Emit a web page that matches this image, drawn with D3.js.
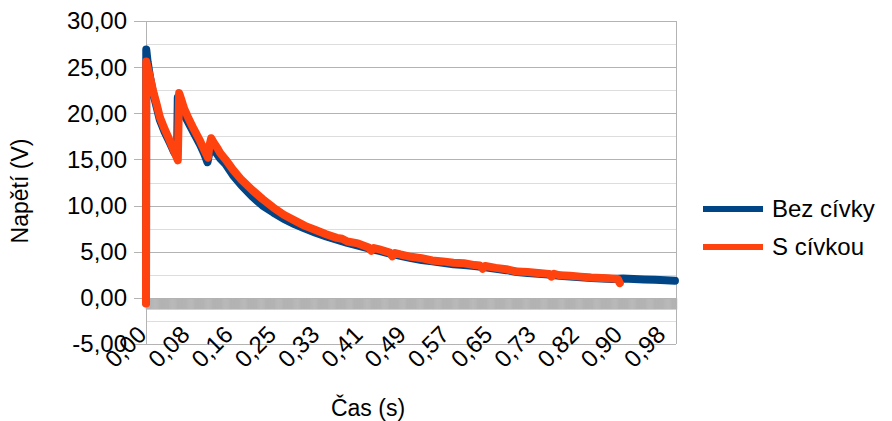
<!DOCTYPE html>
<html lang="cs">

<head>
    <meta charset="UTF-8">
    <title>Napětí</title>
    <style>
        body { margin: 0; background: #fff; }
        text { font-family: "Liberation Sans", Arial, sans-serif; fill: #000; }
    </style>
</head>

<body>
    <svg width="892" height="421" id="svg"></svg>
    <script src="https://d3js.org/d3.v7.min.js"></script>
    <script>
        // S cívkou (orange)
        const timeOrange = [0, 0.0005, 0.003, 0.008, 0.013, 0.02, 0.026, 0.035, 0.045, 0.053, 0.060, 0.0625, 0.066, 0.072, 0.079, 0.09, 0.102, 0.110, 0.117, 0.120, 0.123, 0.128, 0.134, 0.140, 0.150, 0.164, 0.18, 0.20, 0.22, 0.24, 0.26, 0.28, 0.30, 0.32, 0.34, 0.36, 0.37, 0.38, 0.40, 0.42, 0.425, 0.43, 0.44, 0.46, 0.465, 0.47, 0.48, 0.50, 0.52, 0.54, 0.56, 0.58, 0.60, 0.62, 0.63, 0.635, 0.64, 0.66, 0.68, 0.70, 0.72, 0.74, 0.76, 0.765, 0.77, 0.78, 0.80, 0.82, 0.84, 0.86, 0.88, 0.890, 0.894]
        const voltOrange = [-0.6, 25.6, 25.0, 23.8, 22.5, 21.0, 19.6, 18.3, 17.0, 15.9, 14.9, 22.2, 21.6, 20.5, 19.6, 18.3, 17.0, 16.0, 15.2, 16.6, 17.3, 16.8, 16.3, 15.7, 15.0, 13.9, 12.8, 11.7, 10.7, 9.8, 9.0, 8.4, 7.8, 7.35, 6.9, 6.5, 6.4, 6.1, 5.9, 5.45, 5.1, 5.4, 5.25, 4.9, 4.5, 4.85, 4.7, 4.45, 4.3, 4.05, 3.95, 3.8, 3.75, 3.55, 3.5, 3.15, 3.45, 3.25, 3.1, 2.85, 2.8, 2.7, 2.6, 2.3, 2.6, 2.45, 2.4, 2.3, 2.2, 2.15, 2.1, 2.05, 1.6]

        // Bez cívky (blue)
        const timeBlue = [0, 0.0005, 0.003, 0.008, 0.013, 0.02, 0.026, 0.035, 0.045, 0.053, 0.0585, 0.060, 0.063, 0.07, 0.079, 0.09, 0.102, 0.110, 0.116, 0.119, 0.122, 0.128, 0.134, 0.140, 0.150, 0.164, 0.18, 0.20, 0.22, 0.24, 0.26, 0.28, 0.30, 0.32, 0.34, 0.36, 0.38, 0.40, 0.42, 0.44, 0.46, 0.48, 0.50, 0.52, 0.54, 0.56, 0.58, 0.60, 0.62, 0.64, 0.66, 0.68, 0.70, 0.72, 0.74, 0.76, 0.78, 0.80, 0.82, 0.84, 0.86, 0.88, 0.90, 0.92, 0.94, 0.96, 0.98, 0.998]
        const voltBlue = [-0.5, 26.9, 25.6, 23.8, 22.3, 20.7, 19.3, 18.0, 16.8, 15.8, 15.3, 21.7, 21.0, 20.0, 19.1, 17.9, 16.6, 15.6, 14.7, 15.6, 16.4, 16.0, 15.6, 15.1, 14.5, 13.3, 12.2, 11.0, 10.0, 9.25, 8.55, 8.0, 7.5, 7.05, 6.65, 6.3, 5.95, 5.65, 5.35, 5.1, 4.8, 4.55, 4.3, 4.1, 3.95, 3.8, 3.65, 3.55, 3.45, 3.3, 3.15, 3.0, 2.8, 2.7, 2.62, 2.52, 2.4, 2.3, 2.22, 2.15, 2.1, 2.05, 2.1, 2.05, 2.0, 1.95, 1.9, 1.85]

        const xTickValues = [0, 0.0816, 0.1632, 0.2448, 0.3264, 0.408, 0.4896, 0.5712, 0.6528, 0.7344, 0.816, 0.8976, 0.9792]
        const xTickLabels = ["0,00", "0,08", "0,16", "0,25", "0,33", "0,41", "0,49", "0,57", "0,65", "0,73", "0,82", "0,90", "0,98"]
        const yTickValues = [-5, 0, 5, 10, 15, 20, 25, 30]
        const yTickLabels = ["-5,00", "0,00", "5,00", "10,00", "15,00", "20,00", "25,00", "30,00"]
        const seriesNames = ["Bez cívky", "S cívkou"]
        const colors = ["#004586", "#ff420e"]

        const plot = { left: 146, right: 676, top: 21, bottom: 344 }
        const svg = d3.select("svg#svg")

        const xScale = d3.scaleLinear().domain([0, 1.0]).range([plot.left, plot.right])
        const yScale = d3.scaleLinear().domain([-5, 30]).range([plot.bottom, plot.top])

        // minor gridlines
        const minor = d3.range(-2.5, 30, 5)
        svg.append("g").selectAll("line").data(minor).enter().append("line")
            .attr("x1", plot.left).attr("x2", plot.right)
            .attr("y1", d => Math.round(yScale(d)) + 0.5).attr("y2", d => Math.round(yScale(d)) + 0.5)
            .attr("stroke", "#dddddd").attr("stroke-width", 1)

        // major gridlines + y ticks
        svg.append("g").selectAll("line").data(yTickValues).enter().append("line")
            .attr("x1", plot.left - 12).attr("x2", plot.right)
            .attr("y1", d => Math.round(yScale(d)) + 0.5).attr("y2", d => Math.round(yScale(d)) + 0.5)
            .attr("stroke", "#b3b3b3").attr("stroke-width", 1)

        // frame
        svg.append("line").attr("x1", plot.left + 0.5).attr("x2", plot.left + 0.5)
            .attr("y1", plot.top).attr("y2", plot.bottom).attr("stroke", "#b3b3b3")
        svg.append("line").attr("x1", plot.right + 0.5).attr("x2", plot.right + 0.5)
            .attr("y1", plot.top).attr("y2", plot.bottom).attr("stroke", "#b3b3b3")

        // dense category ticks at y = 0
        const xAxis = d3.axisBottom(xScale).tickValues(d3.range(0, 1.0005, 0.002)).tickSize(11).tickFormat("")
        const gx = svg.append("g").attr("transform", `translate(0, ${Math.round(yScale(0)) + 0.5})`).call(xAxis)
        gx.select(".domain").remove()
        gx.selectAll("line").attr("stroke", "#b3b3b3").attr("stroke-width", 1.5)

        // y labels
        svg.append("g").selectAll("text").data(yTickValues).enter().append("text")
            .attr("x", 127).attr("y", d => yScale(d)).attr("dy", "0.35em")
            .attr("text-anchor", "end").style("font-size", "24px")
            .text((d, i) => yTickLabels[i])

        // x labels rotated
        svg.append("g").selectAll("text").data(xTickValues).enter().append("text")
            .attr("text-anchor", "end").style("font-size", "24px")
            .attr("transform", d => `translate(${xScale(d) + 2}, 336) rotate(-45)`)
            .text((d, i) => xTickLabels[i])

        // lines
        const line = d3.line().x(d => xScale(d[0])).y(d => yScale(d[1]))
        const blue = timeBlue.map((t, i) => [t, voltBlue[i]])
        const orange = timeOrange.map((t, i) => [t, voltOrange[i]])
        ;[blue, orange].forEach((s, i) => {
            svg.append("path").datum(s)
                .attr("fill", "none").attr("stroke", colors[i])
                .attr("stroke-width", 8).attr("stroke-linejoin", "round").attr("stroke-linecap", "round")
                .attr("d", line)
        })

        // axis titles
        svg.append("text").attr("transform", "translate(28, 191) rotate(-90)")
            .attr("text-anchor", "middle").style("font-size", "23px").text("Napětí (V)")
        svg.append("text").attr("x", 368).attr("y", 416)
            .attr("text-anchor", "middle").style("font-size", "23px").text("Čas (s)")

        // legend
        const legend = svg.append("g").selectAll("g").data(seriesNames).enter().append("g")
            .attr("transform", (d, i) => `translate(703, ${209 + i * 38})`)
        legend.append("line").attr("x1", 0).attr("x2", 60).attr("y1", 0).attr("y2", 0)
            .attr("stroke", (d, i) => colors[i]).attr("stroke-width", 6)
        legend.append("text").attr("x", 69).attr("y", 8).style("font-size", "24px").text(d => d)
    </script>
</body>

</html>
